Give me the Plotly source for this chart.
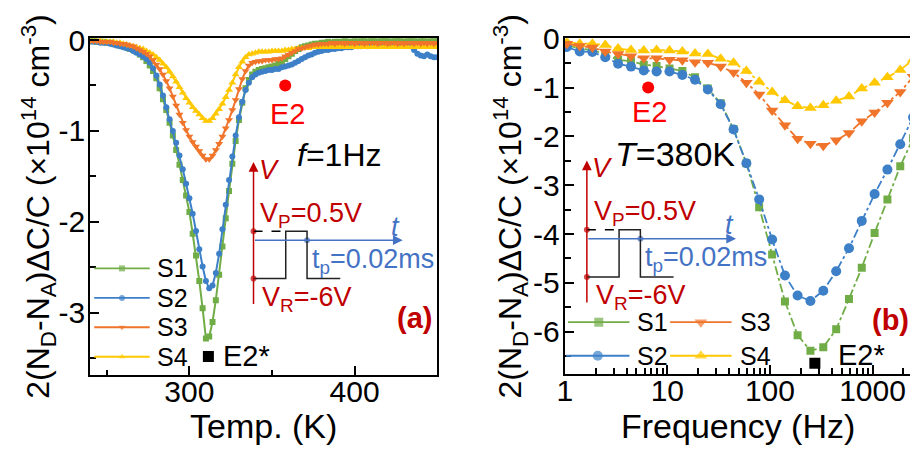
import plotly.graph_objects as go

W, H = 910, 450
FONT = "Liberation Sans, Arial, sans-serif"
DARKRED = "#C00000"
BLUE_T = "#4472C4"
COLORS = {"S1": "#70AD47", "S2": "#3D80C8", "S3": "#F0742A", "S4": "#FFC800"}
SYMBOLS = {"S1": "square", "S2": "circle", "S3": "triangle-down", "S4": "triangle-up"}

# ---------------- panel (a): DLTS temperature scan, f = 1 Hz ----------------
temps = list(range(240, 452, 2))
a_S1 = [-0.01, -0.01, -0.02, -0.02, -0.02, -0.03, -0.03, -0.04, -0.05, -0.06,
        -0.07, -0.08, -0.10, -0.11, -0.13, -0.16, -0.19, -0.23, -0.28, -0.34,
        -0.42, -0.53, -0.65, -0.77, -0.91, -1.05, -1.21, -1.37, -1.54, -1.71,
        -1.89, -2.13, -2.37, -2.65, -2.95, -3.28, -3.26, -3.10, -2.86, -2.58,
        -2.27, -1.96, -1.66, -1.36, -1.11, -0.88, -0.69, -0.53, -0.44, -0.38,
        -0.35, -0.33, -0.32, -0.31, -0.30, -0.29, -0.28, -0.26, -0.24, -0.21,
        -0.18, -0.15, -0.12, -0.10, -0.08, -0.07, -0.06, -0.05, -0.04, -0.04,
        -0.03,
        -0.03, -0.02, -0.03, -0.02, -0.02, -0.02, -0.01, -0.02, -0.02, -0.01,
        -0.02, -0.01, -0.01, -0.02, -0.01, -0.01, -0.02, -0.01, -0.01, -0.01,
        -0.02, -0.01, -0.01, -0.01, -0.02, -0.01, -0.01, -0.01, -0.02, -0.01,
        -0.01, -0.02, -0.01, -0.01, -0.01]
a_S2 = [-0.02, -0.02, -0.02, -0.03, -0.03, -0.03, -0.04, -0.05, -0.06, -0.07,
        -0.08, -0.09, -0.10, -0.12, -0.14, -0.16, -0.18, -0.21, -0.25, -0.31,
        -0.39, -0.49, -0.61, -0.74, -0.87, -1.00, -1.13, -1.27, -1.42, -1.58,
        -1.74, -1.91, -2.10, -2.30, -2.49, -2.65, -2.73, -2.70, -2.56, -2.35,
        -2.08, -1.81, -1.54, -1.28, -1.05, -0.85, -0.68, -0.55, -0.47, -0.41,
        -0.38, -0.36, -0.35, -0.34, -0.33, -0.33, -0.32, -0.32, -0.30, -0.29,
        -0.28, -0.27, -0.25, -0.23, -0.21, -0.19, -0.17, -0.16, -0.14, -0.13,
        -0.12,
        -0.11, -0.11, -0.10, -0.10, -0.09, -0.09, -0.08, -0.08, -0.08, -0.07,
        -0.07, -0.07, -0.06, -0.07, -0.06, -0.06, -0.05, -0.06, -0.05, -0.05,
        -0.06, -0.05, -0.05, -0.06, -0.05, -0.06, -0.07, -0.11, -0.15, -0.17,
        -0.18, -0.16, -0.18, -0.19, -0.19]
a_S3 = [-0.01, -0.01, -0.01, -0.02, -0.02, -0.02, -0.02, -0.03, -0.03, -0.04,
        -0.04, -0.05, -0.06, -0.07, -0.09, -0.11, -0.13, -0.15, -0.18, -0.22,
        -0.27, -0.32, -0.38, -0.45, -0.53, -0.62, -0.72, -0.82, -0.91, -0.99,
        -1.06, -1.12, -1.17, -1.22, -1.27, -1.31, -1.31, -1.27, -1.21, -1.14,
        -1.06, -0.97, -0.88, -0.77, -0.66, -0.54, -0.43, -0.34, -0.28, -0.25,
        -0.24, -0.23, -0.23, -0.22, -0.22, -0.22, -0.21, -0.21, -0.20, -0.18,
        -0.16, -0.14, -0.12, -0.10, -0.09, -0.08, -0.07, -0.06, -0.05, -0.05,
        -0.04,
        -0.04, -0.04, -0.03, -0.04, -0.03, -0.03, -0.04, -0.03, -0.03, -0.04,
        -0.03, -0.03, -0.04, -0.03, -0.03, -0.03, -0.04, -0.03, -0.03, -0.04,
        -0.03, -0.03, -0.04, -0.03, -0.04, -0.03, -0.03, -0.04, -0.03, -0.04,
        -0.03, -0.04, -0.03, -0.04, -0.03]
a_S4 = [-0.01, -0.01, -0.01, -0.01, -0.02, -0.02, -0.02, -0.02, -0.03, -0.03,
        -0.04, -0.05, -0.06, -0.07, -0.08, -0.09, -0.10, -0.12, -0.14, -0.16,
        -0.19, -0.22, -0.26, -0.30, -0.35, -0.40, -0.46, -0.52, -0.58, -0.64,
        -0.69, -0.74, -0.78, -0.82, -0.86, -0.89, -0.89, -0.86, -0.81, -0.76,
        -0.70, -0.63, -0.55, -0.47, -0.38, -0.30, -0.24, -0.19, -0.16, -0.15,
        -0.14, -0.13, -0.13, -0.13, -0.13, -0.12, -0.12, -0.12, -0.12, -0.11,
        -0.11, -0.10, -0.10, -0.09, -0.09, -0.09, -0.09, -0.08, -0.08, -0.08,
        -0.08,
        -0.08, -0.07, -0.08, -0.08, -0.07, -0.08, -0.07, -0.08, -0.08, -0.07,
        -0.08, -0.08, -0.07, -0.08, -0.08, -0.07, -0.08, -0.08, -0.07, -0.08,
        -0.08, -0.07, -0.08, -0.08, -0.07, -0.08, -0.08, -0.07, -0.08, -0.08,
        -0.07, -0.08, -0.08, -0.07, -0.08]
panel_a = {"S1": a_S1, "S2": a_S2, "S3": a_S3, "S4": a_S4}
for k, v in panel_a.items():
    assert len(v) == len(temps), (k, len(v))

a_E2 = (358, -0.5)        # E2 marker (red dot)
a_E2star = (311.5, -3.48)  # E2* marker (black square)

# ---------------- panel (b): frequency scan, T = 380 K ----------------
freqs = [1.05, 1.40, 1.86, 2.48, 3.31, 4.42, 5.89, 7.85, 10.5, 14.0,
         18.6, 24.8, 33.1, 44.2, 58.9, 78.5, 105, 140, 186, 248,
         331, 442, 589, 785, 1047, 1396, 1862, 2483]
b_S1 = [-0.13, -0.20, -0.23, -0.32, -0.43, -0.46, -0.53, -0.56, -0.61, -0.66,
        -0.79, -1.02, -1.32, -1.85, -2.55, -3.45, -4.42, -5.38, -6.07, -6.39,
        -6.32, -5.95, -5.33, -4.69, -3.98, -3.29, -2.61, -2.04]
b_S2 = [-0.17, -0.26, -0.27, -0.38, -0.51, -0.57, -0.65, -0.67, -0.67, -0.74,
        -0.84, -1.04, -1.34, -1.86, -2.55, -3.29, -4.11, -4.85, -5.26, -5.37,
        -5.16, -4.76, -4.29, -3.73, -3.18, -2.68, -2.16, -1.61]
b_S3 = [-0.10, -0.15, -0.18, -0.26, -0.31, -0.36, -0.40, -0.40, -0.43, -0.44,
        -0.48, -0.49, -0.57, -0.69, -0.90, -1.14, -1.47, -1.77, -2.05, -2.15,
        -2.19, -2.08, -1.93, -1.69, -1.51, -1.31, -1.09, -0.78]
b_S4 = [-0.07, -0.10, -0.10, -0.13, -0.20, -0.23, -0.24, -0.23, -0.24, -0.26,
        -0.30, -0.31, -0.41, -0.49, -0.66, -0.88, -1.09, -1.26, -1.38, -1.42,
        -1.36, -1.27, -1.18, -1.02, -0.90, -0.79, -0.64, -0.43]
panel_b = {"S1": b_S1, "S2": b_S2, "S3": b_S3, "S4": b_S4}
for k, v in panel_b.items():
    assert len(v) == len(freqs), (k, len(v))

b_E2 = (6.5, -1.0)
b_E2star = (274, -6.645)

series_order = ["S1", "S2", "S4", "S3"]

fig = go.Figure()

# ---- panel (a) traces
small_sizes = {"S1": 6, "S2": 6, "S3": 7, "S4": 7}
for name in series_order:
    fig.add_trace(go.Scatter(
        x=temps, y=panel_a[name], mode="lines+markers", name=name,
        line=dict(color=COLORS[name], width=2),
        marker=dict(symbol=SYMBOLS[name], size=small_sizes[name], color=COLORS[name]),
        xaxis="x", yaxis="y", showlegend=False, cliponaxis=True))
fig.add_trace(go.Scatter(x=[a_E2[0]], y=[a_E2[1]], mode="markers",
                         marker=dict(color="#FF0000", size=12), xaxis="x", yaxis="y", showlegend=False))
fig.add_trace(go.Scatter(x=[a_E2star[0]], y=[a_E2star[1]], mode="markers",
                         marker=dict(color="black", size=11, symbol="square"), xaxis="x", yaxis="y", showlegend=False))

# ---- panel (b) traces
big_sizes = {"S1": 8, "S2": 10, "S3": 11, "S4": 11}
for name in series_order:
    fig.add_trace(go.Scatter(
        x=freqs, y=panel_b[name], mode="lines+markers", name=name,
        line=dict(color=COLORS[name], width=1.8, dash="dashdot"),
        marker=dict(symbol=SYMBOLS[name], size=big_sizes[name], color=COLORS[name]),
        xaxis="x2", yaxis="y2", showlegend=False))
fig.add_trace(go.Scatter(x=[b_E2[0]], y=[b_E2[1]], mode="markers",
                         marker=dict(color="#FF0000", size=12), xaxis="x2", yaxis="y2", showlegend=False))
fig.add_trace(go.Scatter(x=[b_E2star[0]], y=[b_E2star[1]], mode="markers",
                         marker=dict(color="black", size=11, symbol="square"), xaxis="x2", yaxis="y2", showlegend=False))

# ---------------- overlay (pixel coordinates) helpers ----------------
ov_x, ov_y, ov_sym, ov_col, ov_size = [], [], [], [], []
shapes = []
annotations = []


def text(x, y, t, size=26, color="black", xanchor="center", angle=0):
    annotations.append(dict(x=x, y=y, xref="x3", yref="y3", text=t, showarrow=False,
                            xanchor=xanchor, yanchor="middle", textangle=angle,
                            font=dict(family=FONT, size=size, color=color)))


def arrow(x0, y0, x1, y1, color):
    annotations.append(dict(x=x1, y=y1, ax=x0, ay=y0, xref="x3", yref="y3", axref="x3", ayref="y3",
                            text="", showarrow=True, arrowhead=2, arrowsize=1.3, arrowwidth=1.5,
                            arrowcolor=color, standoff=0, startstandoff=0,
                            font=dict(family=FONT, size=12)))


def dot(x, y, color, size=6, symbol="circle"):
    ov_x.append(x); ov_y.append(y); ov_col.append(color); ov_size.append(size); ov_sym.append(symbol)


INSET = 27


def inset(ox, oy):
    arrow(ox, oy + 77, ox, oy - 72, DARKRED)
    text(ox + 16, oy - 64, "<i>V</i>", INSET, DARKRED)
    text(ox + 5, oy - 17, "V<sub>P</sub>=0.5V", INSET, DARKRED, "left")
    shapes.append(dict(type="line", xref="x3", yref="y3", x0=ox, y0=oy, x1=ox + 32.5, y1=oy,
                       line=dict(color="black", width=1.5, dash="dash")))
    path = (f"M {ox},{oy + 49} L {ox + 32.5},{oy + 49} L {ox + 32.5},{oy} L {ox + 54},{oy} "
            f"L {ox + 54},{oy + 49} L {ox + 87.5},{oy + 49}")
    shapes.append(dict(type="path", xref="x3", yref="y3", path=path,
                       line=dict(color="#222222", width=1.5)))
    arrow(ox, oy + 9.2, ox + 150.5, oy + 9.2, BLUE_T)
    dot(ox, oy, DARKRED)
    dot(ox, oy + 49, DARKRED)
    dot(ox + 54, oy + 9.2, BLUE_T)
    text(ox + 143.5, oy - 5, "<i>t</i>", INSET, BLUE_T)
    text(ox + 57, oy + 30.5, "t<sub>p</sub>=0.02ms", INSET, BLUE_T, "left")
    text(ox + 7, oy + 70, "V<sub>R</sub>=-6V", INSET, DARKRED, "left")


LEG = 25


def legend_item(x0, x1, y, name, msize, tx):
    shapes.append(dict(type="line", xref="x3", yref="y3", x0=x0, y0=y, x1=x1, y1=y,
                       line=dict(color=COLORS[name], width=1.8)))
    dot((x0 + x1) / 2, y, COLORS[name], msize, SYMBOLS[name])
    text(tx, y, name, LEG, "black", "left")


inset(247.7, 223.3)
inset(584, 221.7)

# legends
for name, y in zip(["S1", "S2", "S3", "S4"], [261.7, 292.3, 322.7, 353.3]):
    legend_item(87, 143, y, name, 6, 148)
legend_item(565, 627, 317.5, "S1", 9, 633)
legend_item(563, 627, 352.3, "S2", 10, 633)
legend_item(668, 730, 317.5, "S3", 11, 736)
legend_item(668, 730, 352.3, "S4", 11, 736)

# panel texts
text(281.7, 101.7, "E2", 29, "#FF0000")
text(215, 353, "E2*", 29, "black", "left")
text(290, 144, "<i>f</i>=1Hz", 32, "black", "left")
text(410, 313, "<b>(a)</b>", 29, DARKRED)
text(647.3, 100, "E2", 29, "#FF0000")
text(835, 351, "E2*", 29, "black", "left")
text(610, 143.3, "<i>T</i>=380K", 34, "black", "left")
text(890, 315, "<b>(b)</b>", 29, DARKRED)

# axis titles
ytitle = "2(N<sub>D</sub>-N<sub>A</sub>)ΔC/C (×10<sup>14</sup> cm<sup>-3</sup>)"
text(31, 198, ytitle, 32, "black", "center", -90)
text(507, 198, ytitle, 32, "black", "center", -90)
text(257.5, 425, "Temp. (K)", 34)
text(736.5, 425, "Frequency (Hz)", 34)

fig.add_trace(go.Scatter(x=ov_x, y=ov_y, mode="markers", xaxis="x3", yaxis="y3", showlegend=False,
                         marker=dict(color=ov_col, size=ov_size, symbol=ov_sym, line=dict(width=0))))


def dx(a, b):
    return [a / W, b / W]


def dy(top, bottom):
    return [1 - bottom / H, 1 - top / H]


axis_common = dict(showline=True, linewidth=2, linecolor="black", ticks="inside", ticklen=9,
                   tickwidth=2, tickcolor="black", showgrid=False, zeroline=False,
                   tickfont=dict(family=FONT, size=30, color="black"))

minor_freqs = [m * 10 ** e for e in range(0, 4) for m in range(2, 10) if m * 10 ** e < 2500]

fig.update_layout(
    width=W, height=H, margin=dict(l=0, r=0, t=0, b=0),
    paper_bgcolor="white", plot_bgcolor="rgba(0,0,0,0)",
    font=dict(family=FONT, color="black"),
    showlegend=False,
    xaxis=dict(domain=dx(83, 433), range=[240, 450], anchor="y", mirror=True,
               tickvals=[300, 400], ticktext=["300", "400"], ticklabelstandoff=-11,
               minor=dict(tickvals=[250, 350], ticks="inside", ticklen=5, tickwidth=1.5, tickcolor="black"),
               **axis_common),
    yaxis=dict(domain=dy(23, 372), range=[-3.68, 0.02], anchor="x", mirror=True,
               tickvals=[0, -1, -2, -3], ticktext=["0", "-1", "-2", "-3"], ticklabelstandoff=-3,
               minor=dict(tickvals=[-0.5, -1.5, -2.5, -3.5], ticks="inside", ticklen=6, tickwidth=1.5,
                          tickcolor="black"),
               **axis_common),
    xaxis2=dict(type="log", domain=dx(561.7, 910), range=[0, 3.365], anchor="y2", mirror=True,
                tickvals=[1, 10, 100, 1000], ticktext=["1", "10", "100", "1000"], ticklabelstandoff=-11,
                minor=dict(tickvals=minor_freqs, ticks="inside", ticklen=6, tickwidth=1.5, tickcolor="black"),
                **axis_common),
    yaxis2=dict(domain=dy(23, 371.7), range=[-6.876, 0.012], anchor="x2", mirror=False,
                tickvals=[0, -1, -2, -3, -4, -5, -6], ticktext=["0", "-1", "-2", "-3", "-4", "-5", "-6"],
                ticklabelstandoff=-3,
                minor=dict(tickvals=[-0.5, -1.5, -2.5, -3.5, -4.5, -5.5, -6.5], ticks="inside", ticklen=6,
                           tickwidth=1.5, tickcolor="black"),
                **axis_common),
    xaxis3=dict(domain=[0, 1], range=[0, W], anchor="y3", visible=False, fixedrange=True),
    yaxis3=dict(domain=[0, 1], range=[H, 0], anchor="x3", visible=False, fixedrange=True),
    shapes=shapes,
    annotations=annotations,
)

fig.write_html("out.html")
